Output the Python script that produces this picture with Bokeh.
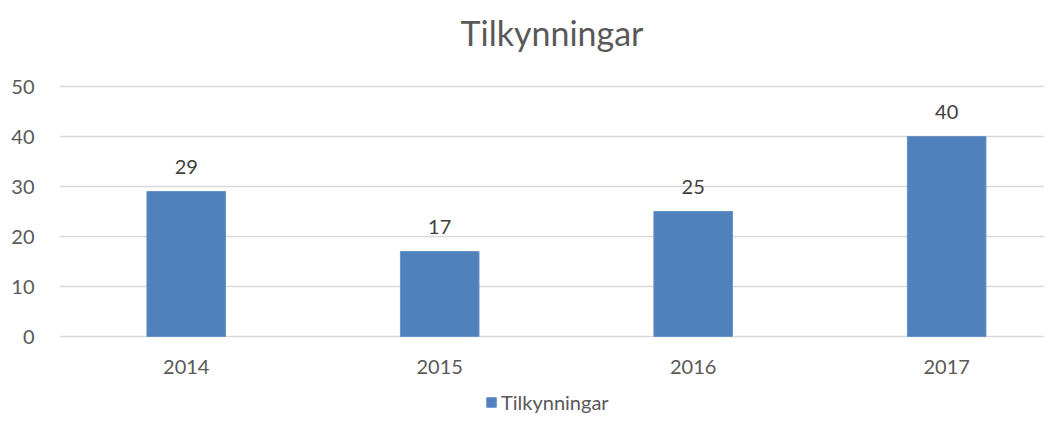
from bokeh.plotting import figure
from bokeh.layouts import column
from bokeh.models import Range1d, FixedTicker, ColumnDataSource, Legend, LegendItem
from bokeh.embed import file_html
from bokeh.resources import INLINE
from bokeh.core.properties import value

years = ["2014", "2015", "2016", "2017"]
counts = [29, 17, 25, 40]
series_name = "Tilkynningar"
chart_title = "Tilkynningar"
y_ticks = [0, 10, 20, 30, 40, 50]

FONT = "Lato"
BAR = "#4F81BD"
BAR_EDGE = "#6A93C8"
TXT = "#595959"
positions = list(range(len(years)))
src = ColumnDataSource(dict(x=positions, y=counts, label=[str(c) for c in counts]))

# title strip
head = figure(width=1044, height=62, output_backend="svg", toolbar_location=None,
              x_range=Range1d(0, 1), y_range=Range1d(0, 1),
              x_axis_type=None, y_axis_type=None, min_border=0)
head.outline_line_color = None
head.grid.visible = False
head.text(x=[0.5], y=[0.484], text=[chart_title], text_align="center",
          text_baseline="middle", text_font=value(FONT), text_font_size="34px",
          text_color=TXT)

p = figure(frame_width=985, frame_height=254, output_backend="svg", toolbar_location=None,
           x_range=Range1d(-0.5, 3.386), y_range=Range1d(-0.4, 50.4),
           min_border_left=59, min_border_right=0, min_border_top=22, min_border_bottom=46)
p.outline_line_color = None
p.background_fill_color = "white"
p.border_fill_color = "white"

bars = p.vbar(x="x", top="y", width=0.31, source=src, fill_color=BAR,
              line_color=BAR_EDGE, line_width=1)
p.text(x="x", y="y", text="label", source=src, text_align="center",
       text_baseline="bottom", y_offset=-18, text_font=value(FONT),
       text_font_size="20px", text_color="#404040")

p.xgrid.grid_line_color = None
p.ygrid.grid_line_color = "#D9D9D9"
p.ygrid.grid_line_width = 1.5
p.yaxis.ticker = FixedTicker(ticks=y_ticks)
p.xaxis.ticker = FixedTicker(ticks=positions)
p.xaxis.major_label_overrides = {i: y for i, y in enumerate(years)}
for ax in (p.xaxis, p.yaxis):
    ax.axis_line_color = None
    ax.major_tick_line_color = None
    ax.minor_tick_line_color = None
    ax.major_label_text_font = FONT
    ax.major_label_text_font_size = "20px"
    ax.major_label_text_color = TXT
p.yaxis.major_label_standoff = 19
p.xaxis.major_label_standoff = 15

# legend strip below the chart
lg = figure(width=1044, height=30, output_backend="svg", toolbar_location=None,
            x_range=Range1d(0, 1), y_range=Range1d(0, 1),
            x_axis_type=None, y_axis_type=None, min_border=0)
lg.outline_line_color = None
lg.grid.visible = False
key = lg.vbar(x=positions[:1], top=counts[:1], width=0.1, fill_color=BAR, line_color=BAR_EDGE)
key.visible = False
legend = Legend(items=[LegendItem(label=series_name, renderers=[key])],
                location=(426, 0), orientation="horizontal",
                glyph_width=12, glyph_height=12, label_standoff=4,
                padding=0, margin=0, spacing=0,
                label_text_font=FONT, label_text_font_size="20px",
                label_text_color=TXT, border_line_color=None,
                background_fill_alpha=0, inactive_fill_alpha=0)
lg.add_layout(legend, "center")

layout = column(head, p, lg, spacing=0)
open("out.html", "w").write(file_html(layout, INLINE))
